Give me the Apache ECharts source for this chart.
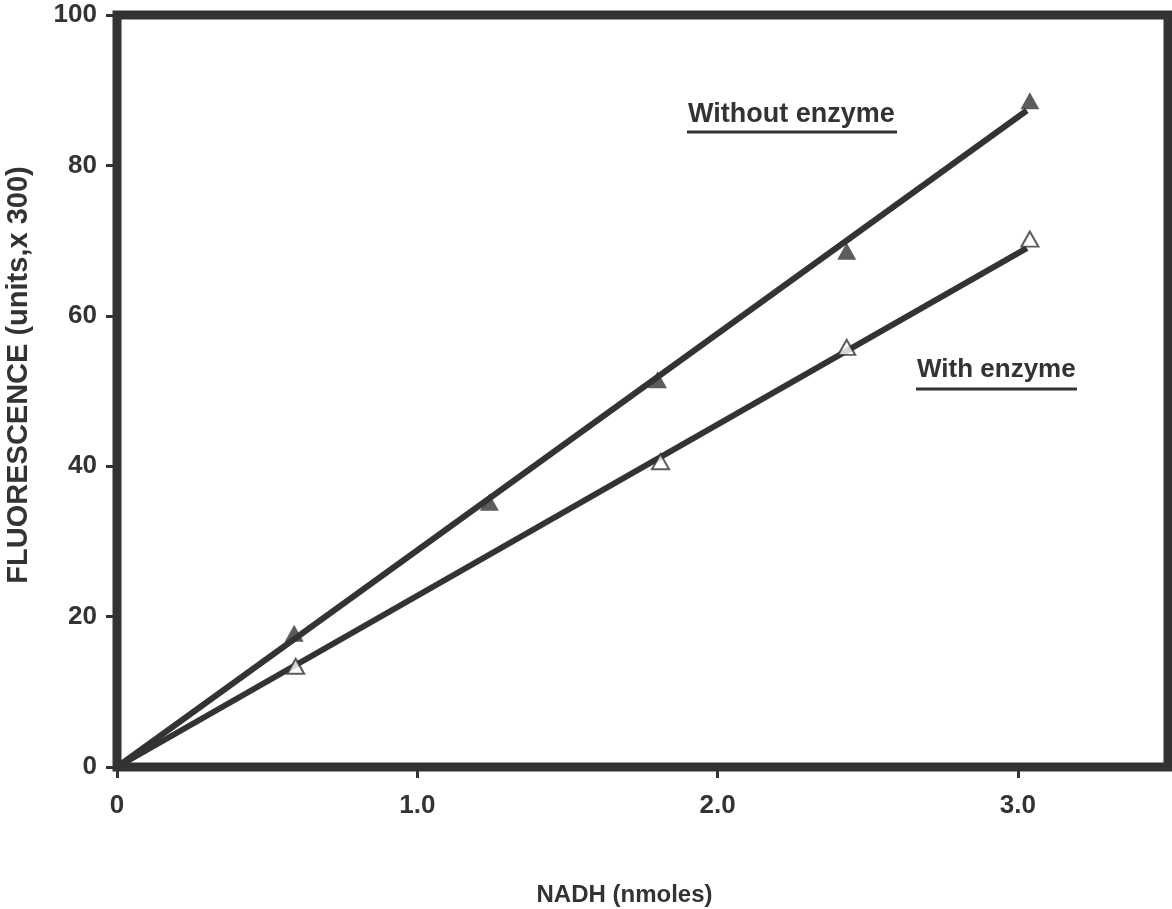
<!DOCTYPE html>
<html>
<head>
<meta charset="utf-8">
<script src="https://cdn.jsdelivr.net/npm/echarts@6/dist/echarts.min.js"></script>
<style>
  html, body { margin: 0; padding: 0; background: #fff; }
  #chart { width: 1172px; height: 909px; }
</style>
</head>
<body>
<div id="chart"></div>
<script>
// NADH amount (nmoles) at each measured point
var nadhWithout = [0, 0.59, 1.24, 1.80, 2.43, 3.04];
var fluorWithout = [0, 17.8, 35.2, 51.5, 68.6, 88.6];
var nadhWith = [0, 0.595, 1.81, 2.43, 3.04];
var fluorWith = [0, 13.4, 40.6, 55.8, 70.2];

// fitted straight lines (end points)
var fitWithoutX = [0, 3.03];
var fitWithoutY = [0, 87.3];
var fitWithX = [0, 3.03];
var fitWithY = [0, 69.0];

var xTicks = [0, 1, 2, 3];

function pairs(xs, ys) {
  return xs.map(function (x, i) { return [x, ys[i]]; });
}

var ink = '#333';
var font = 'Liberation Sans, Arial, sans-serif';

var chart = echarts.init(document.getElementById('chart'));
var option = {
  animation: false,
  backgroundColor: '#fff',
  grid: {
    left: 117, right: 4, top: 15, bottom: 142,
    outerBoundsMode: 'none',
    show: true, borderColor: ink, borderWidth: 9, backgroundColor: 'transparent'
  },
  xAxis: {
    type: 'value', min: 0, max: 3.5, interval: 0.5,
    axisLine: { show: false },
    splitLine: { show: false },
    axisTick: {
      show: true, length: 11, lineStyle: { color: ink, width: 3 },
      customValues: xTicks
    },
    axisLabel: {
      margin: 26, color: ink, fontSize: 26, fontWeight: 'bold', fontFamily: font,
      customValues: xTicks,
      formatter: function (v) { return v === 0 ? '0' : v.toFixed(1); }
    },
    name: 'NADH (nmoles)', nameLocation: 'middle', nameGap: 116,
    nameTextStyle: {
      color: ink, fontSize: 24, fontWeight: 'bold', fontFamily: font,
      padding: [0, 36, 0, 0]
    }
  },
  yAxis: {
    type: 'value', min: 0, max: 100, interval: 20,
    axisLine: { show: false },
    splitLine: { show: false },
    axisTick: { show: true, length: 11, lineStyle: { color: ink, width: 3 } },
    axisLabel: {
      margin: 20, color: ink, fontSize: 26, fontWeight: 'bold', fontFamily: font
    },
    name: 'FLUORESCENCE (units,x 300)', nameLocation: 'middle', nameGap: 84,
    nameTextStyle: {
      color: ink, fontSize: 29, fontWeight: 'bold', fontFamily: font,
      padding: [0, 0, 0, 32]
    }
  },
  series: [
    {
      name: 'fit without', type: 'line', data: pairs(fitWithoutX, fitWithoutY),
      showSymbol: false, lineStyle: { color: ink, width: 6 }, z: 2
    },
    {
      name: 'fit with', type: 'line', data: pairs(fitWithX, fitWithY),
      showSymbol: false, lineStyle: { color: ink, width: 6 }, z: 2
    },
    {
      name: 'Without enzyme', type: 'scatter', data: pairs(nadhWithout, fluorWithout).slice(1),
      symbol: 'triangle', symbolSize: [19, 17],
      itemStyle: { color: ink }, z: 3
    },
    {
      name: 'With enzyme', type: 'scatter', data: pairs(nadhWith, fluorWith).slice(1),
      symbol: 'triangle', symbolSize: [17, 15],
      itemStyle: { color: '#fff', borderColor: ink, borderWidth: 2 }, z: 3
    }
  ],
  graphic: [
    {
      type: 'text', left: 688, top: 101,
      style: { text: 'Without enzyme', fill: ink, font: 'bold 27px ' + font }
    },
    {
      type: 'line', shape: { x1: 687, y1: 132, x2: 897, y2: 132 },
      style: { stroke: ink, lineWidth: 3 }
    },
    {
      type: 'text', left: 917, top: 357,
      style: { text: 'With enzyme', fill: ink, font: 'bold 26px ' + font }
    },
    {
      type: 'line', shape: { x1: 916, y1: 389, x2: 1077, y2: 389 },
      style: { stroke: ink, lineWidth: 3 }
    }
  ]
};
chart.setOption(option);
</script>
</body>
</html>
